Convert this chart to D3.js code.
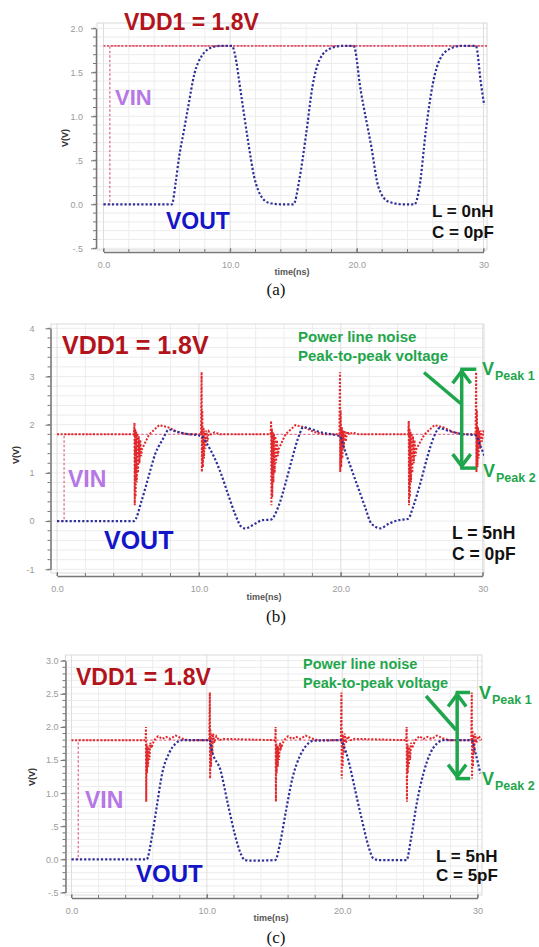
<!DOCTYPE html>
<html><head><meta charset="utf-8">
<script src="https://cdn.jsdelivr.net/npm/d3@7"></script>
<style>body{margin:0;background:#fff}svg{display:block}</style>
</head><body>
<svg id="c" width="539" height="947"></svg>
<script>
// ---------------- DATA ----------------
const timeTicks = [0, 10, 20, 30];
const timeTickLabels = ["0.0", "10.0", "20.0", "30"];

const aYTicks = [2.0, 1.5, 1.0, 0.5, 0.0, -0.5];
const aYTickLabels = ["2.0", "1.5", "1.0", ".5", "0.0", "-.5"];
const bYTicks = [4, 3, 2, 1, 0, -1];
const bYTickLabels = ["4", "3", "2", "1", "0", "-1"];
const cYTicks = [3.0, 2.5, 2.0, 1.5, 1.0, 0.5, 0.0, -0.5];
const cYTickLabels = ["3.0", "2.5", "2.0", "1.5", "1.0", ".5", "0.0", "-.5"];

// VIN step (all panels)
const vinT = [0, 0.5, 0.5, 30.4];
const vinV = [0, 0, 1.8, 1.8];

// (a) L=0nH C=0pF
const aVddT = [0, 30.4];
const aVddV = [1.8, 1.8];
const aVoutT = [0, 5.4, 5.7, 5.97, 6.3, 6.64, 7.19, 7.73, 8.68, 9.2, 10.15, 10.35, 10.85, 11.4, 11.9, 12.5, 13.1, 14.0, 15.0, 15.45, 16.0, 16.5, 17.05, 17.9, 18.8, 19.75, 20.3, 21.15, 21.7, 22.5, 23.6, 24.55, 24.95, 25.45, 26.0, 26.6, 27.4, 28.2, 29.4, 29.8, 30.05];
const aVoutV = [0, 0, 0.25, 0.54, 0.8, 1.07, 1.49, 1.68, 1.79, 1.8, 1.8, 1.72, 1.26, 0.73, 0.31, 0.08, 0.015, 0, 0, 0.27, 0.8, 1.34, 1.64, 1.77, 1.8, 1.8, 1.3, 0.65, 0.2, 0.03, 0, 0, 0.2, 0.84, 1.37, 1.66, 1.77, 1.8, 1.8, 1.37, 1.13];

// (b) L=5nH C=0pF
const bVddT = [0, 5.42, 5.46, 5.48, 5.51, 5.54, 5.58, 5.62, 5.66, 5.71, 5.76, 5.81, 5.87, 5.93, 6.0, 6.5, 7.2, 7.8, 8.5, 9.2,
  10.15, 10.19, 10.21, 10.24, 10.28, 10.32, 10.36, 10.41, 10.46, 10.52, 10.6, 10.7, 10.85, 11.1, 11.5,
  15.05, 15.09, 15.11, 15.14, 15.17, 15.21, 15.25, 15.29, 15.34, 15.39, 15.44, 15.5, 15.56, 15.63, 16.1, 16.8, 17.4, 18.1, 18.8,
  19.9, 19.94, 19.96, 19.99, 20.03, 20.07, 20.11, 20.16, 20.21, 20.27, 20.35, 20.45, 20.6, 20.85, 21.25,
  24.75, 24.79, 24.81, 24.84, 24.87, 24.91, 24.95, 24.99, 25.04, 25.09, 25.14, 25.2, 25.26, 25.33, 25.9, 26.6, 27.2, 27.9, 28.6,
  29.5, 29.54, 29.56, 29.59, 29.63, 29.67, 29.71, 29.76, 29.81, 29.87, 29.95, 30.05, 30.4];
const bVddV = [1.8, 1.8, 2.04, 0.33, 1.92, 0.5, 1.86, 0.8, 1.82, 1.0, 1.76, 1.2, 1.68, 1.35, 1.5, 1.8, 1.99, 1.95, 1.85, 1.8,
  1.8, 3.09, 1.02, 2.3, 1.12, 1.95, 1.3, 1.88, 1.5, 1.88, 1.65, 1.86, 1.8, 1.84, 1.8,
  1.8, 2.08, 0.33, 1.92, 0.5, 1.86, 0.8, 1.82, 1.0, 1.76, 1.2, 1.68, 1.35, 1.5, 1.8, 1.99, 1.95, 1.85, 1.8,
  1.8, 3.09, 1.02, 2.3, 1.12, 1.95, 1.3, 1.88, 1.5, 1.88, 1.65, 1.86, 1.8, 1.84, 1.8,
  1.8, 2.08, 0.33, 1.92, 0.5, 1.86, 0.8, 1.82, 1.0, 1.76, 1.2, 1.68, 1.35, 1.5, 1.8, 1.99, 1.95, 1.85, 1.8,
  1.8, 3.09, 1.02, 2.3, 1.12, 1.95, 1.3, 1.88, 1.5, 1.88, 1.65, 1.86, 1.8];
const bVoutT = [0, 5.42, 5.97, 6.45, 6.93, 7.42, 7.9, 8.39, 9.12, 9.97, 10.25, 10.58, 11.07, 11.55, 12.04, 12.53, 13.0, 13.26, 13.99, 14.47, 15.05, 15.6, 16.1, 16.6, 17.1, 17.35, 17.8, 18.5, 19.7, 19.95, 20.2, 20.7, 21.2, 21.7, 22.15, 22.8, 23.4, 24.1, 24.75, 25.1, 25.6, 26.1, 26.55, 26.95, 27.5, 28.5, 29.5, 29.85, 30.2];
const bVoutV = [0, 0, 0.43, 0.92, 1.4, 1.68, 1.9, 1.86, 1.81, 1.78, 1.75, 1.6, 1.33, 0.99, 0.57, 0.16, -0.12, -0.15, -0.05, 0.02, 0.03, 0.3, 0.78, 1.33, 1.81, 1.95, 1.92, 1.85, 1.78, 1.76, 1.54, 1.12, 0.71, 0.3, -0.05, -0.15, -0.05, 0.02, 0.05, 0.3, 0.78, 1.33, 1.74, 1.93, 1.88, 1.81, 1.78, 1.55, 1.3];
const bPeaks = [3.15, 1.1];

// (c) L=5nH C=5pF
const cVddT = [0, 5.47, 5.5, 5.52, 5.55, 5.58, 5.62, 5.66, 5.7, 5.75, 5.82, 5.9, 6.1, 6.4, 6.7, 7.0, 7.3, 7.7, 8.1, 8.6,
  10.18, 10.22, 10.24, 10.27, 10.31, 10.35, 10.4, 10.46, 10.55, 10.7, 10.9, 11.2,
  15.05, 15.08, 15.1, 15.13, 15.16, 15.2, 15.24, 15.28, 15.33, 15.4, 15.48, 15.7, 16.0, 16.3, 16.6, 16.9, 17.3, 17.7, 18.2,
  19.9, 19.94, 19.96, 19.99, 20.03, 20.07, 20.12, 20.18, 20.27, 20.42, 20.62, 20.9,
  24.73, 24.76, 24.78, 24.81, 24.84, 24.88, 24.92, 24.96, 25.01, 25.08, 25.16, 25.4, 25.7, 26.0, 26.3, 26.6, 27.0, 27.4, 27.9,
  29.53, 29.57, 29.59, 29.62, 29.66, 29.7, 29.75, 29.81, 29.9, 30.05, 30.4];
const cVddV = [1.8, 1.8, 2.0, 0.87, 1.75, 1.3, 1.72, 1.4, 1.7, 1.5, 1.76, 1.68, 1.8, 1.86, 1.82, 1.85, 1.82, 1.87, 1.83, 1.8,
  1.8, 2.52, 1.22, 1.95, 1.4, 1.88, 1.6, 1.9, 1.76, 1.86, 1.8, 1.82,
  1.8, 2.0, 0.87, 1.75, 1.3, 1.72, 1.4, 1.7, 1.5, 1.76, 1.68, 1.8, 1.86, 1.82, 1.85, 1.82, 1.87, 1.83, 1.8,
  1.8, 2.52, 1.22, 1.95, 1.4, 1.88, 1.6, 1.9, 1.76, 1.86, 1.8, 1.82,
  1.8, 2.0, 0.87, 1.75, 1.3, 1.72, 1.4, 1.7, 1.5, 1.76, 1.68, 1.8, 1.86, 1.82, 1.85, 1.82, 1.87, 1.83, 1.8,
  1.8, 2.52, 1.22, 1.95, 1.4, 1.88, 1.6, 1.9, 1.76, 1.86, 1.8];
const cVoutT = [0, 5.55, 5.94, 6.33, 6.7, 7.2, 7.7, 8.2, 10.2, 10.4, 11.0, 11.55, 12.05, 12.55, 12.8, 13.3, 15.05, 15.45, 15.85, 16.35, 16.85, 17.35, 17.85, 19.9, 20.1, 20.45, 20.95, 21.45, 21.95, 22.3, 22.7, 24.75, 25.1, 25.5, 26.0, 26.5, 27.0, 27.5, 29.55, 29.85, 30.2];
const cVoutV = [0, 0, 0.34, 0.84, 1.3, 1.6, 1.75, 1.8, 1.8, 1.62, 1.35, 0.84, 0.39, 0.065, -0.01, -0.02, -0.01, 0.29, 0.74, 1.25, 1.55, 1.72, 1.79, 1.8, 1.72, 1.5, 1.05, 0.6, 0.19, 0.015, -0.01, -0.01, 0.34, 0.84, 1.3, 1.6, 1.75, 1.8, 1.8, 1.6, 1.3];
const cPeaks = [2.52, 1.22];

// ---------------- DRAW ----------------
const svg = d3.select("#c");
const FONT = "'Liberation Sans', Arial, sans-serif";
const zip = (T, V) => T.map((t, i) => [t, V[i]]);

function panel(c) {
  const x = d3.scaleLinear().domain([0, 30]).range([c.x0, c.x30]);
  const y = d3.scaleLinear().domain(c.yDom).range(c.yRng);
  const g = svg.append("g");
  const clipId = "clip" + c.id;
  g.append("clipPath").attr("id", clipId).append("rect")
    .attr("x", c.fl).attr("y", c.ft).attr("width", c.fr - c.fl).attr("height", c.fb - c.ft);

  // grid
  const grid = g.append("g");
  const yMinor = d3.range(Math.round(c.yDom[0] / c.yMinorStep), Math.round(c.yDom[1] / c.yMinorStep) + 1).map(k => +(k * c.yMinorStep).toFixed(3));
  const tMinor = d3.range(0, 31, 2);
  grid.selectAll(".hg").data(yMinor).join("line")
    .attr("x1", c.fl).attr("x2", c.fr).attr("y1", d => y(d)).attr("y2", d => y(d))
    .attr("stroke", "#ececec").attr("stroke-width", 1);
  grid.selectAll(".vg").data(tMinor).join("line")
    .attr("x1", d => x(d)).attr("x2", d => x(d)).attr("y1", c.ft).attr("y2", c.fb)
    .attr("stroke", d => d % 10 === 0 ? "#dedede" : "#ededed").attr("stroke-width", 1);
  grid.append("rect").attr("x", c.fl).attr("y", c.ft).attr("width", c.fr - c.fl).attr("height", c.fb - c.ft)
    .attr("fill", "none").attr("stroke", "#dadada");

  // axes
  const yAx = g.append("g").attr("transform", `translate(${c.yAxisX},0)`)
    .call(d3.axisLeft(y).tickValues(c.yTicks).tickFormat((d, i) => c.yLabels[i]).tickSize(5).tickSizeOuter(0).tickPadding(c.yPad));
  yAx.selectAll(".yminor").data(yMinor).join("line").attr("class", "yminor")
    .attr("x1", -3).attr("x2", 0).attr("y1", d => y(d)).attr("y2", d => y(d)).attr("stroke", "#777");
  const xAx = g.append("g").attr("transform", `translate(0,${c.xAxisY})`)
    .call(d3.axisBottom(x).tickValues(timeTicks).tickFormat((d, i) => timeTickLabels[i]).tickSize(-4).tickSizeOuter(0).tickPadding(10));
  xAx.selectAll(".xminor").data(tMinor).join("line").attr("class", "xminor")
    .attr("x1", d => x(d)).attr("x2", d => x(d)).attr("y1", -3).attr("y2", 0).attr("stroke", "#777");
  [yAx, xAx].forEach(a => {
    a.select(".domain").attr("stroke", "#777").attr("stroke-width", 1.5);
    a.selectAll(".tick line").attr("stroke", "#777");
    a.selectAll("text").attr("font-family", FONT).attr("font-size", 9).attr("fill", "#9a9a9a");
  });

  // axis titles
  g.append("text").attr("x", c.timeX).attr("y", c.timeY).attr("text-anchor", "middle")
    .attr("font-family", FONT).attr("font-size", 9).attr("font-weight", "bold").attr("fill", "#555").text("time(ns)");
  g.append("text").attr("transform", `translate(${c.vvX},${c.vvY}) rotate(-90)`).attr("text-anchor", "middle")
    .attr("font-family", FONT).attr("font-size", 9).attr("font-weight", "bold").attr("fill", "#333").text("V(V)");

  // traces
  const line = d3.line().x(d => x(d[0])).y(d => y(d[1]));
  const smooth = d3.line().x(d => x(d[0])).y(d => y(d[1])).curve(d3.curveMonotoneX);
  const tr = g.append("g").attr("clip-path", `url(#${clipId})`);
  tr.append("path").attr("d", line(zip(vinT, vinV))).attr("fill", "none")
    .attr("stroke", "#e07a92").attr("stroke-width", 1.4).attr("stroke-dasharray", "2.5,2");
  tr.append("path").attr("d", line(zip(c.vddT, c.vddV))).attr("fill", "none")
    .attr("stroke", c.vddColor).attr("stroke-width", c.vddW).attr("stroke-dasharray", "2,1.6");
  tr.append("path").attr("d", smooth(zip(c.voutT, c.voutV))).attr("fill", "none")
    .attr("stroke", "#30309a").attr("stroke-width", 2.2).attr("stroke-dasharray", "2.2,2");

  // labels
  const T = (x0, y0, s, size, fill, anchor) => g.append("text").attr("x", x0).attr("y", y0)
    .attr("font-family", FONT).attr("font-weight", "bold").attr("font-size", size).attr("fill", fill)
    .attr("text-anchor", anchor || "start").text(s);
  T(c.vddX, c.vddY, "VDD1 = 1.8V", c.vddSize, "#b3141c");
  T(c.vinX, c.vinY, "VIN", c.vinSize, "#b678e4");
  T(c.voutX, c.voutY, "VOUT", c.voutSize, "#1414c8");
  T(c.lcX, c.lY, c.lText, c.lcSize, "#111");
  T(c.lcX, c.cY, c.cText, c.lcSize, "#111");
  g.append("text").attr("x", c.capX).attr("y", c.capY).attr("text-anchor", "middle")
    .attr("font-family", "'Liberation Serif', 'Times New Roman', serif").attr("font-size", 17).attr("fill", "#111").text(c.caption);

  if (c.peaks) {
    const G = "#1fa64c";
    T(c.pnX, c.pnY1, "Power line noise", c.pnSize, G);
    T(c.pnX, c.pnY2, "Peak-to-peak voltage", c.pnSize, G);
    const ay1 = y(c.peaks[0]), ay2 = y(c.peaks[1]);
    const ax = x(c.arrowT), bx = x(c.barT);
    const ag = g.append("g").attr("stroke", G).attr("stroke-width", 3.5).attr("fill", "none");
    ag.append("line").attr("x1", ax).attr("x2", ax).attr("y1", ay1).attr("y2", ay2);
    ag.append("line").attr("x1", ax - 1.5).attr("x2", bx).attr("y1", ay1).attr("y2", ay1);
    ag.append("line").attr("x1", ax - 1.5).attr("x2", bx).attr("y1", ay2).attr("y2", ay2);
    ag.append("polyline").attr("points", `${ax - 9},${ay1 + 14} ${ax},${ay1 + 2} ${ax + 9},${ay1 + 14}`);
    ag.append("polyline").attr("points", `${ax - 9},${ay2 - 14} ${ax},${ay2 - 2} ${ax + 9},${ay2 - 14}`);
    ag.append("line").attr("x1", c.diag[0]).attr("y1", c.diag[1]).attr("x2", ax - 1).attr("y2", c.diag[3]);
    [[c.vp1X, c.vp1Y, "Peak 1"], [c.vp2X, c.vp2Y, "Peak 2"]].forEach(([px, py, s]) => {
      const t = g.append("text").attr("x", px).attr("y", py).attr("font-family", FONT).attr("font-weight", "bold")
        .attr("fill", G).attr("font-size", 18).text("V");
      t.append("tspan").attr("dx", 1).attr("dy", 5).attr("font-size", 12.5).text(s);
    });
  }
}

panel({
  id: "a", x0: 103.5, x30: 483.5, yDom: [-0.5, 2.0], yRng: [248.3, 28.3],
  fl: 97, fr: 487, ft: 23, fb: 250, yAxisX: 96, xAxisY: 252, yPad: 8, yMinorStep: 0.1,
  yTicks: aYTicks, yLabels: aYTickLabels,
  timeX: 292, timeY: 275, vvX: 68, vvY: 138,
  vddT: aVddT, vddV: aVddV, vddColor: "#e0506a", vddW: 1.6,
  voutT: aVoutT, voutV: aVoutV,
  vddX: 124, vddY: 30, vddSize: 23,
  vinX: 115, vinY: 105, vinSize: 22,
  voutX: 166, voutY: 229, voutSize: 23,
  lcX: 432, lY: 217, cY: 238, lcSize: 17, lText: "L = 0nH", cText: "C = 0pF",
  capX: 276, capY: 295, caption: "(a)"
});

panel({
  id: "b", x0: 57, x30: 482.7, yDom: [-1, 4], yRng: [569.3, 328.3],
  fl: 51, fr: 484, ft: 324, fb: 573, yAxisX: 50.5, xAxisY: 576, yPad: 11, yMinorStep: 0.2,
  yTicks: bYTicks, yLabels: bYTickLabels,
  timeX: 264, timeY: 600, vvX: 19, vvY: 455,
  vddT: bVddT, vddV: bVddV, vddColor: "#e2282c", vddW: 2,
  voutT: bVoutT, voutV: bVoutV,
  vddX: 62, vddY: 354, vddSize: 25,
  vinX: 68, vinY: 487, vinSize: 23,
  voutX: 104, voutY: 549, voutSize: 25,
  lcX: 452, lY: 539, cY: 560, lcSize: 17.5, lText: "L = 5nH", cText: "C = 0pF",
  capX: 276, capY: 622, caption: "(b)",
  peaks: bPeaks, arrowT: 28.52, barT: 29.55,
  pnX: 298, pnY1: 342, pnY2: 361, pnSize: 15,
  diag: [424, 372.5, 0, 403.5],
  vp1X: 482, vp1Y: 375, vp2X: 483, vp2Y: 477
});

panel({
  id: "c", x0: 71.5, x30: 477.6, yDom: [-0.5, 3.0], yRng: [892.5, 660.7],
  fl: 65.5, fr: 482, ft: 655, fb: 895, yAxisX: 65.5, xAxisY: 898, yPad: 2, yMinorStep: 0.1,
  yTicks: cYTicks, yLabels: cYTickLabels,
  timeX: 271, timeY: 921, vvX: 35, vvY: 777,
  vddT: cVddT, vddV: cVddV, vddColor: "#e2282c", vddW: 2,
  voutT: cVoutT, voutV: cVoutV,
  vddX: 76, vddY: 685, vddSize: 23,
  vinX: 85, vinY: 808, vinSize: 23,
  voutX: 136, voutY: 882, voutSize: 24,
  lcX: 436, lY: 862, cY: 881, lcSize: 17, lText: "L = 5nH", cText: "C = 5pF",
  capX: 276, capY: 943, caption: "(c)",
  peaks: cPeaks, arrowT: 28.49, barT: 29.45,
  pnX: 303, pnY1: 669, pnY2: 688, pnSize: 14.5,
  diag: [426, 696, 0, 730],
  vp1X: 479, vp1Y: 699, vp2X: 482, vp2Y: 785
});
</script>
</body></html>
